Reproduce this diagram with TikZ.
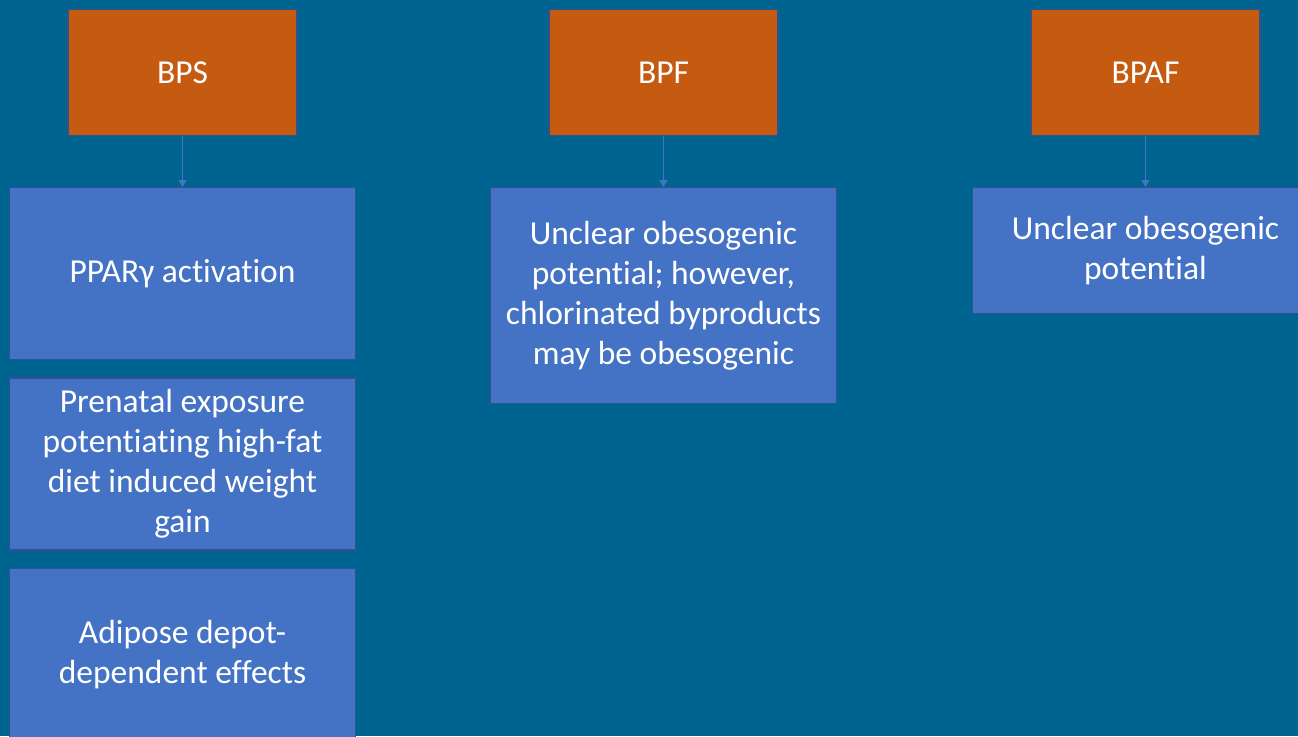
\documentclass[tikz,border=0pt]{standalone}
\usepackage{fontspec}
\setmainfont[Ligatures=NoCommon]{Carlito}
\usetikzlibrary{positioning, arrows.meta}
\definecolor{slidebg}{HTML}{006491}
\definecolor{orangefill}{HTML}{C55A11}
\definecolor{bluefill}{HTML}{4472C4}
\definecolor{boxedge}{HTML}{2F528F}
\definecolor{arrowblue}{HTML}{4472C4}

\begin{document}
\begin{tikzpicture}[
    x=1pt, y=1pt,
    node distance=17pt,
    chemical/.style={rectangle, draw=boxedge, line width=1.2pt, fill=orangefill, minimum width=229pt, minimum height=126pt, text=white, font=\fontsize{33.5}{40}\selectfont},
    effect/.style={rectangle, draw=boxedge, line width=1.2pt, fill=bluefill, minimum width=346pt, minimum height=172pt, align=center, text=white, font=\fontsize{33.5}{40}\selectfont},
    arrow/.style={-{Triangle[width=8pt,length=7pt]}, line width=0.8pt, draw=arrowblue}
]
    % Slide background
    \useasboundingbox (0,0) rectangle (1298,-736);
    \clip (0,0) rectangle (1298,-736);
    \fill[slidebg] (0,0) rectangle (1298,-736);

    % Bisphenol analogues
    \node[chemical] (bps) at (182.5,-72.5) {BPS};
    \node[chemical] (bpf) at (663.5,-72.5) {BPF};
    \node[chemical] (bpaf) at (1145.5,-72.5) {BPAF};

    % BPS effects
    \node[effect, below=51pt of bps] (ppar) {PPARγ activation};
    \node[effect, below=of ppar] (prenatal) {Prenatal exposure\\potentiating high-fat\\diet induced weight\\gain};
    \node[effect, below=of prenatal] (adipose) {Adipose depot-\\dependent effects};

    % BPF effects
    \node[effect, minimum height=216pt, below=51pt of bpf] (bpfeff) {Unclear obesogenic\\potential; however,\\chlorinated byproducts\\may be obesogenic};

    % BPAF effects
    \node[effect, minimum height=126pt, below=51pt of bpaf] (bpafeff) {Unclear obesogenic\\potential};

    % Connect components
    \draw[arrow] (bps) -- (ppar);
    \draw[arrow] (bpf) -- (bpfeff);
    \draw[arrow] (bpaf) -- (bpafeff);

\end{tikzpicture}
\end{document}
